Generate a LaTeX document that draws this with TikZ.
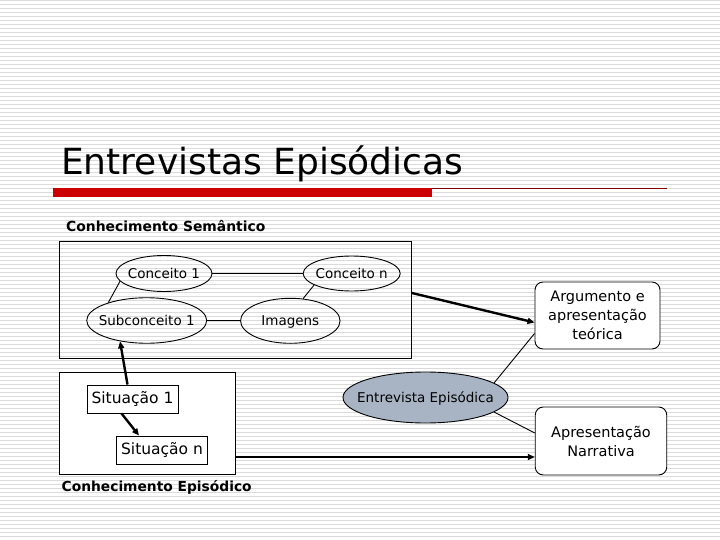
\documentclass[tikz,border=0pt]{standalone}
\usepackage{fontspec}
\setmainfont{DejaVu Sans}
\usetikzlibrary{shapes.geometric, arrows.meta, positioning, calc}
\definecolor{cStripe}{RGB}{218,218,218}
\definecolor{cBar}{RGB}{204,0,0}
\definecolor{cRule}{RGB}{128,0,0}
\definecolor{cEpi}{RGB}{168,180,196}
\tikzset{
	stripe/.style   ={cStripe, line width=1pt},
	frame/.style    ={rectangle, draw=black, line width=0.9pt, inner sep=0pt},
	concept/.style  ={ellipse, draw=black, line width=0.9pt, inner sep=0pt, label={[font=\fontsize{13.5}{16}\selectfont, text height=9.8pt, text depth=0pt]center:#1}},
	sitbox/.style   ={rectangle, draw=black, line width=0.9pt, fill=white, inner sep=2pt, font=\fontsize{15.5}{18}\selectfont},
	outbox/.style   ={rectangle, rounded corners=8pt, draw=black, line width=0.9pt, fill=white, align=center, inner sep=2pt, font=\fontsize{14.5}{19}\selectfont},
	caption/.style  ={anchor=west, inner sep=0pt, font=\bfseries\fontsize{13.9}{16}\selectfont},
	link/.style     ={black, line width=0.9pt},
	flow/.style     ={-{Triangle[length=7pt, width=6pt]}, line width=2.4pt},
}

\begin{document}
\begin{tikzpicture}[x=1pt, y=-1pt]
	\useasboundingbox (0,0) rectangle (720,540);
	\fill[white] (0,0) rectangle (720,540);
	\foreach \yy in {0,4,...,536}
		\draw[stripe] (0,\yy+0.5) -- (720,\yy+0.5);

	% title and rule
	\node[anchor=base west, inner sep=0pt, font=\fontsize{36}{40}\selectfont] (title) at (61,175) {Entrevistas Episódicas};
	\fill[cBar] (53,188) rectangle (432,197);
	\draw[cRule, line width=1.2pt] (432,188.6) -- (667,188.6);

	% semantic knowledge
	\node[caption] (semcap) at (66,226) {Conhecimento Semântico};
	\node[frame, minimum width=352, minimum height=116.5] (sem) at (235.5,300) {};
	\node[concept={Conceito 1}, minimum width=96, minimum height=36] (c1) at (164,273.5) {};
	\node[concept={Conceito n}, minimum width=97, minimum height=35] (cn) at (351.7,273.5) {};
	\node[concept={Subconceito 1}, minimum width=120, minimum height=45.5] (sub) at (146.7,320.5) {};
	\node[concept={Imagens}, minimum width=99.5, minimum height=45] (img) at (290.3,320.8) {};
	\draw[link] (c1) -- (cn);
	\draw[link] (sub) -- (img);
	\draw[link] (c1.190) -- (sub.155);
	\draw[link] (cn.197) -- (img.60);

	% episodic knowledge
	\node[frame, fill=white, minimum width=176, minimum height=101.3] (epi) at (147,423.4) {};
	\node[sitbox, minimum width=91, minimum height=28] (sit1) at (132.5,399) {Situação 1};
	\node[sitbox, minimum width=90.6, minimum height=28] (sitn) at (162,450) {Situação n};
	\node[caption, font=\bfseries\fontsize{13.8}{16}\selectfont] (epicap) at (61.5,487.5) {Conhecimento Episódico};

	% interview and outputs
	\node[concept={Entrevista Episódica}, fill=cEpi, minimum width=165, minimum height=51] (ent) at (425.5,397.5) {};
	\node[outbox, minimum width=125, minimum height=67] (arg) at (597.5,315.5) {Argumento e\\apresentação\\teórica};
	\node[outbox, minimum width=131.5, minimum height=68] (narr) at (601,441) {Apresentação\\Narrativa};
	\draw[link] (ent.12) -- ([yshift=-18pt]arg.west);
	\draw[link] (ent.-12) -- ([yshift=8pt]narr.west);

	\coordinate (nin) at ([yshift=-16pt]narr.west);
	\draw[flow] ([xshift=-5pt]sit1.north) -- (sub.218);
	\draw[flow] ([xshift=-11pt]sit1.south) -- ([xshift=-23pt]sitn.north);
	\draw[flow] ([yshift=7pt]sem.east) -- ([yshift=-7pt]arg.west);
	\draw[flow] (nin -| epi.east) -- (nin);
\end{tikzpicture}
\end{document}
